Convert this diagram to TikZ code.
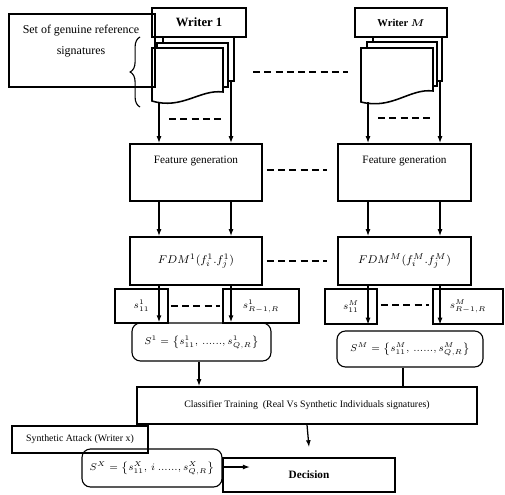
\documentclass[tikz,border=0pt]{standalone}
\usepackage{amsmath}
\usepackage{fontspec}
\setmainfont{Liberation Serif}
\usepackage{tikz}
\usetikzlibrary{arrows.meta, positioning, calc, decorations.pathreplacing}

\begin{document}
\begin{tikzpicture}[x=0.025cm, y=-0.025cm,
  box/.style={draw, line width=1.1pt, inner sep=0pt, font=\fontsize{8}{9.5}\selectfont},
  rbox/.style={box, rounded corners=6pt, line width=0.8pt, font=\fontsize{7.5}{9}\selectfont},
  page/.style={draw, fill=white, line width=1.1pt},
  dashline/.style={line width=1.2pt, dash pattern=on 5pt off 3pt},
  arr/.style={line width=0.9pt, -{Latex[length=5pt,width=3.5pt]}},
  sz/.style 2 args={minimum width=#1*0.025cm, minimum height=#2*0.025cm}]

  \useasboundingbox (0,0) rectangle (505,494);

  % --- Top: writers and their reference signatures ---
  % Writer 1 pages
  \draw[page] (163,37) rectangle (234,81);
  \draw[page] (157,43) rectangle (228,87);
  \draw[page] (152,48) -- (223,48) -- (223,92) .. controls (200,89) and (182,110) .. (152,101) -- cycle;

  % Writer M pages
  \draw[page] (373,37) rectangle (442,81);
  \draw[page] (367,42) rectangle (437,86);
  \draw[page] (361,48) -- (433,48) -- (433,91) .. controls (410,88) and (392,110) .. (361,102) -- cycle;

  \node[box, sz={94}{29}, font=\fontsize{9}{10}\selectfont\bfseries] (writer1) at (199,22.5) {Writer 1};
  \node[box, sz={92}{29}, font=\fontsize{7.5}{9}\selectfont\bfseries] (writerM) at (401,22.5) {Writer $\boldsymbol{M}$};

  % Reference set label and brace
  \node[box, sz={146}{73}] (genuine) at (82,50.5) {};
  \node[font=\fontsize{8.5}{15.5}\selectfont, align=center] (genuinetxt) at (81,41) {Set of genuine reference\\signatures};
  \draw[line width=0.8pt, decorate, decoration={brace, amplitude=7pt}] (140,107) -- (140,37);

  \coordinate (d1a) at (159,102);
  \coordinate (d1b) at (231,81);
  \coordinate (dMa) at (368,102);
  \coordinate (dMb) at (440,81);

  \draw[dashline] (253,72) -- (348,72);
  \draw[dashline] (169,119) -- (221,119);
  \draw[dashline] (378,118) -- (430,118);

  % --- Feature generation ---
  \node[box, sz={132}{57}] (fg1) at (196,172.5) {};
  \node[box, sz={133}{57}] (fg2) at (404.5,172.5) {};
  \node[font=\fontsize{8}{9.5}\selectfont] (fgtxt1) at (196,161) {Feature generation};
  \node[font=\fontsize{8}{9.5}\selectfont] (fgtxt2) at (404.5,161) {Feature generation};
  \draw[dashline, shorten <=4*0.025cm, shorten >=10*0.025cm] ([yshift=0.06cm]fg1.east) -- ([yshift=0.06cm]fg2.west);

  \draw[arr] (d1a) -- (d1a |- fg1.north);
  \draw[arr] (d1b) -- (d1b |- fg1.north);
  \draw[arr] (dMa) -- (dMa |- fg2.north);
  \draw[arr] (dMb) -- (dMb |- fg2.north);

  % --- Feature distance matrices ---
  \node[box, sz={132}{48}] (fdm1) at (196,261) {$FDM^{1}(f_i^{1}.f_j^{1})$};
  \node[box, sz={133}{48}] (fdm2) at (404.5,261) {$FDM^{M}(f_i^{M}.f_j^{M})$};
  \draw[dashline, shorten <=4*0.025cm, shorten >=10*0.025cm] (fdm1.east) -- (fdm2.west);

  \draw[arr] (fg1.south -| d1a) -- (fdm1.north -| d1a);
  \draw[arr] (fg1.south -| d1b) -- (fdm1.north -| d1b);
  \draw[arr] (fg2.south -| dMa) -- (fdm2.north -| dMa);
  \draw[arr] (fg2.south -| dMb) -- (fdm2.north -| dMb);

  % --- Distance vectors ---
  \node[box, sz={53}{34}, font=\fontsize{7}{8}\selectfont] (s11a) at (141.5,306) {$s^{1}_{11}$};
  \node[box, sz={76}{34}, font=\fontsize{7}{8}\selectfont] (sRa) at (261,306) {$s^{1}_{R-1,R}$};
  \node[box, sz={52}{35}, font=\fontsize{7}{8}\selectfont] (s11b) at (351,306.5) {$s^{M}_{11}$};
  \node[box, sz={70}{35}, font=\fontsize{7}{8}\selectfont] (sRb) at (468,306.5) {$s^{M}_{R-1,R}$};
  \draw[dashline, shorten <=2*0.025cm, shorten >=2*0.025cm] (s11a.east) -- (sRa.west);
  \draw[dashline, shorten <=3*0.025cm, shorten >=3*0.025cm] ([yshift=0.03cm]s11b.east) -- ([yshift=0.03cm]sRb.west);

  % --- Signature sets ---
  \node[rbox, sz={139}{38}] (S1) at (201.5,342) {$S^{1}=\bigl\{s^{1}_{11},\,......,s^{1}_{Q,R}\bigr\}$};
  \node[rbox, sz={146}{36}] (SM) at (410,349) {$S^{M}=\bigl\{s^{M}_{11},\,......,s^{M}_{Q,R}\bigr\}$};

  \draw[arr] (fdm1.south -| d1a) -- (S1.north -| d1a);
  \draw[arr] (fdm1.south -| d1b) -- (S1.north -| d1b);
  \draw[arr] (fdm2.south -| dMa) -- (s11b.south -| dMa);
  \draw[arr] (fdm2.south -| dMb) -- (sRb.south -| dMb);

  % --- Classifier and decision ---
  \node[box, sz={340}{37}, font=\fontsize{7}{8}\selectfont] (classifier) at (307,405.5) {Classifier Training~~(Real Vs Synthetic Individuals signatures)};
  \draw[arr] ([xshift=-2.5*0.025cm]S1.south) -- ([xshift=-2.5*0.025cm]S1.south |- classifier.north);
  \draw[line width=0.9pt] (SM.south) ++(-7,0) coordinate (smfoot) -- (smfoot |- classifier.north);

  \node[box, sz={136}{27}, font=\fontsize{7}{8}\selectfont] (attack) at (80,439.5) {Synthetic Attack (Writer x)};
  \node[rbox, sz={140}{38}] (SX) at (152,468) {$S^{X}=\bigl\{s^{X}_{11},\,i\ ......,s^{X}_{Q,R}\bigr\}$};
  \node[box, sz={172}{34}, font=\fontsize{8}{9.5}\selectfont\bfseries] (decision) at (309,475) {Decision};

  \draw[arr] (classifier.south) -- ([yshift=0.25cm]decision.north);
  \coordinate (dectip) at (250,467);
  \draw[arr] (SX.east |- dectip) -- (dectip);
\end{tikzpicture}
\end{document}
